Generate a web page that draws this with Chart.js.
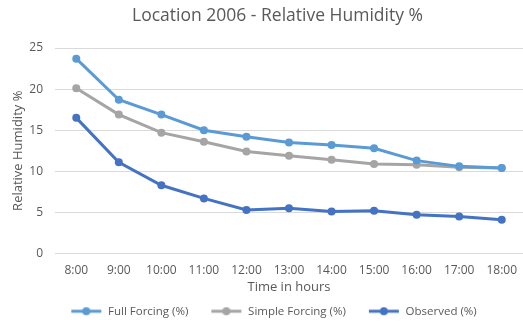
<!DOCTYPE html>
<html>
<head>
<meta charset="utf-8">
<script src="https://cdn.jsdelivr.net/npm/chart.js@4.4.1/dist/chart.umd.min.js"></script>
<style>
  html, body { margin: 0; padding: 0; background: #fff; }
  #wrap { width: 523px; height: 329px; }
</style>
</head>
<body>
<div id="wrap"><canvas id="rhChart" width="523" height="329"></canvas></div>
<script>
const hours = ['8:00', '9:00', '10:00', '11:00', '12:00', '13:00', '14:00', '15:00', '16:00', '17:00', '18:00'];
const fullForcing = [23.7, 18.7, 16.9, 15.0, 14.2, 13.5, 13.2, 12.8, 11.3, 10.6, 10.4];
const simpleForcing = [20.1, 16.9, 14.7, 13.6, 12.4, 11.9, 11.4, 10.9, 10.8, 10.5, 10.4];
const observed = [16.5, 11.1, 8.3, 6.7, 5.3, 5.5, 5.1, 5.2, 4.7, 4.5, 4.1];

const textColor = '#595959';
const fontFamily = "'Open Sans', 'Liberation Sans', sans-serif";

// line-with-marker swatch for the legend; blank space on the left separates the items
function legendSwatch(color) {
    const c = document.createElement('canvas');
    c.width = 46;
    c.height = 10;
    const g = c.getContext('2d');
    g.strokeStyle = color;
    g.lineWidth = 3;
    g.beginPath();
    g.moveTo(15, 5);
    g.lineTo(45, 5);
    g.stroke();
    g.fillStyle = color;
    g.beginPath();
    g.arc(30, 5, 4, 0, Math.PI * 2);
    g.fill();
    return c;
}

function series(label, data, color) {
    return {
        label: label,
        data: data,
        borderColor: color,
        backgroundColor: color,
        borderWidth: 3,
        pointStyle: 'circle',
        pointRadius: 4,
        pointHoverRadius: 4,
        pointBackgroundColor: color,
        pointBorderWidth: 0,
        tension: 0
    };
}

// nudge the title a little to the right of the canvas centre
const titleShift = {
    id: 'titleShift',
    afterLayout(chart) {
        if (chart.titleBlock) {
            chart.titleBlock.left += 22;
        }
    }
};

const ctx = document.getElementById('rhChart').getContext('2d');

new Chart(ctx, {
    type: 'line',
    data: {
        labels: hours,
        datasets: [
            series('Full Forcing (%)', fullForcing, '#5B9BD5'),
            series('Simple Forcing (%)', simpleForcing, '#A5A5A5'),
            series('Observed (%)', observed, '#4472C4')
        ]
    },
    plugins: [titleShift],
    options: {
        responsive: false,
        animation: false,
        layout: {
            autoPadding: false,
            padding: { left: 10, right: 0, top: 4, bottom: 2 }
        },
        plugins: {
            title: {
                display: true,
                text: 'Location 2006 - Relative Humidity %',
                color: textColor,
                font: { family: fontFamily, size: 17.5, weight: 'normal' },
                padding: { top: 2, bottom: 21 }
            },
            legend: {
                position: 'bottom',
                labels: {
                    usePointStyle: true,
                    pointStyleWidth: 46,
                    color: textColor,
                    font: { family: fontFamily, size: 11.5 },
                    padding: 8,
                    generateLabels: function (chart) {
                        return chart.data.datasets.map(function (ds, i) {
                            return {
                                text: ds.label,
                                fontColor: textColor,
                                pointStyle: legendSwatch(ds.borderColor),
                                datasetIndex: i,
                                lineWidth: 0
                            };
                        });
                    }
                }
            },
            tooltip: { enabled: false }
        },
        scales: {
            x: {
                offset: true,
                grid: { display: false },
                border: { display: false },
                ticks: {
                    color: textColor,
                    font: { family: fontFamily, size: 12 },
                    maxRotation: 0,
                    padding: 2
                },
                title: {
                    display: true,
                    text: 'Time in hours',
                    color: textColor,
                    font: { family: fontFamily, size: 13 },
                    padding: { top: 0, bottom: 2 }
                }
            },
            y: {
                min: 0,
                max: 25,
                afterFit: function (scale) {
                    scale.width = 45;
                },
                grid: {
                    color: '#D9D9D9',
                    drawTicks: false
                },
                border: { display: false },
                ticks: {
                    stepSize: 5,
                    color: textColor,
                    font: { family: fontFamily, size: 12 },
                    padding: 12
                },
                title: {
                    display: true,
                    text: 'Relative Humidity %',
                    color: textColor,
                    font: { family: fontFamily, size: 13 },
                    padding: { top: 0, bottom: 0 }
                }
            }
        }
    }
});
</script>
</body>
</html>
